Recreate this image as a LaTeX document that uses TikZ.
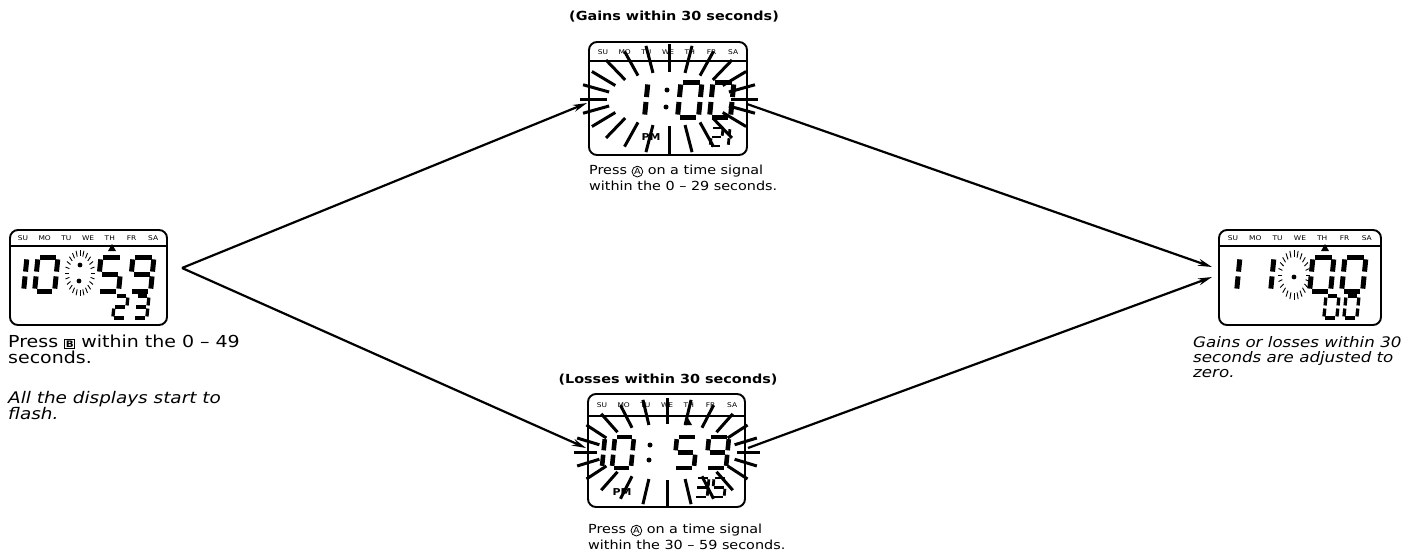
\documentclass[tikz,border=0pt]{standalone}
\usepackage{fontspec}
\setmainfont[FakeStretch=1.15]{DejaVu Sans}
\usetikzlibrary{arrows.meta,calc}

\newcommand{\circA}{\tikz[baseline=(ca.base)]\node[draw,circle,anchor=center,inner sep=0.6pt,line width=0.8pt,font=\fontsize{8.5}{8.5}\selectfont] (ca) {A};}
\newcommand{\boxB}{\raisebox{0.5pt}{\setlength{\fboxsep}{0.7pt}\setlength{\fboxrule}{0.9pt}\fbox{\fontsize{9}{9}\selectfont\bfseries B}}}

% seven-segment LCD digits
\newcommand{\lcdA}{\draw[seg] ({\dG},0) -- ({\dW-\dG},0);}
\newcommand{\lcdB}{\draw[seg] ({\dW},{\dG}) -- ({\dW},{\dM-\dG});}
\newcommand{\lcdC}{\draw[seg] ({\dW},{\dM+\dG}) -- ({\dW},{\dH-\dG});}
\newcommand{\lcdD}{\draw[seg] ({\dG},{\dH}) -- ({\dW-\dG},{\dH});}
\newcommand{\lcdE}{\draw[seg] (0,{\dM+\dG}) -- (0,{\dH-\dG});}
\newcommand{\lcdF}{\draw[seg] (0,{\dG}) -- (0,{\dM-\dG});}
\newcommand{\lcdG}{\draw[seg] ({\dG},{\dM}) -- ({\dW-\dG},{\dM});}
\newcommand{\dgZero}{\lcdA\lcdB\lcdC\lcdD\lcdE\lcdF}
\newcommand{\dgBar}{\lcdE\lcdF}
\newcommand{\dgTwo}{\lcdA\lcdB\lcdG\lcdE\lcdD}
\newcommand{\dgThree}{\lcdA\lcdB\lcdG\lcdC\lcdD}
\newcommand{\dgFive}{\lcdA\lcdF\lcdG\lcdC\lcdD}
\newcommand{\dgNine}{\lcdA\lcdB\lcdC\lcdD\lcdF\lcdG}
% #1 x, #2 y (top), #3 height, #4 width, #5 thickness, #6 segments
\newcommand{\lcd}[6]{%
  \begin{scope}[shift={(#1,#2)},xslant=0.1]
    \pgfmathsetmacro{\dH}{#3}\pgfmathsetmacro{\dW}{#4}%
    \pgfmathsetmacro{\dG}{0.07*#3}\pgfmathsetmacro{\dM}{0.5*#3}%
    \def\dT{#5}%
    #6
  \end{scope}}

\newcommand{\flash}[6]{%
  \foreach \a in {0,15,...,345}{\draw[ray] ({#1+#3*cos(\a)},{#2+#4*sin(\a)}) -- ({#1+#5*cos(\a)},{#2+#6*sin(\a)});}}
\newcommand{\burst}[6]{%
  \foreach \a in {0,15,...,345}{\draw[tick] ({#1+#3*cos(\a)},{#2+#4*sin(\a)}) -- ({#1+#5*cos(\a)},{#2+#6*sin(\a)});}}

\begin{document}
\begin{tikzpicture}[x=1pt,y=-1pt,
  face/.style={draw,line width=1.9pt,rounded corners=8pt,inner sep=0pt,outer sep=0pt},
  sepline/.style={line width=1.3pt},
  seg/.style={line width=\dT pt,line cap=butt},
  ray/.style={line width=3pt},
  tick/.style={line width=0.9pt},
  arr/.style={line width=2.2pt,-{Stealth[length=14pt,width=7pt]}},
  day/.style={font=\fontsize{6.5}{6.5}\selectfont,inner sep=0pt},
  pm/.style={font=\fontsize{9.5}{9.5}\selectfont\bfseries,inner sep=0pt},
  txtL/.style={anchor=north west,align=left,inner sep=0pt,font=\fontsize{16.5}{16}\selectfont},
  txtR/.style={anchor=north west,align=left,inner sep=0pt,font=\fontsize{14.5}{15}\selectfont\itshape},
  txtC/.style={anchor=north west,align=left,inner sep=0pt,font=\fontsize{12.5}{16}\selectfont},
  title/.style={anchor=base,inner sep=0pt,font=\fontsize{12.5}{14}\selectfont\bfseries}]
\useasboundingbox (0,0) rectangle (1408,557);

% faces
\node[face,minimum width=157pt,minimum height=95pt] (L) at (88.5,277.5) {};
\node[face,minimum width=158pt,minimum height=113pt] (T) at (668,98.5) {};
\node[face,minimum width=157pt,minimum height=113pt] (B) at (666.5,450.5) {};
\node[face,minimum width=162pt,minimum height=95pt] (R) at (1300,277.5) {};

\draw[sepline] ([yshift=-16pt]L.north west) -- ([yshift=-16pt]L.north east);
\draw[sepline] ([yshift=-19pt]T.north west) -- ([yshift=-19pt]T.north east);
\draw[sepline] ([yshift=-22pt]B.north west) -- ([yshift=-22pt]B.north east);
\draw[sepline] ([yshift=-16pt]R.north west) -- ([yshift=-16pt]R.north east);

\foreach \d [count=\i from 0] in {SU,MO,TU,WE,TH,FR,SA}{
  \node[day] (L-\i) at ($(L.north west)+(13+\i*21.7,8)$) {\d};
  \node[day] (T-\i) at ($(T.north west)+(14+\i*21.7,10)$) {\d};
  \node[day] (B-\i) at ($(B.north west)+(14+\i*21.7,11)$) {\d};
  \node[day] (R-\i) at ($(R.north west)+(14+\i*22.3,8)$) {\d};
}

% left face  10:59  23
\lcd{27}{257}{34}{20}{5}{\dgBar}
\lcd{38}{257}{34}{20}{5}{\dgZero}
\lcd{101}{257}{34}{21}{5}{\dgFive}
\lcd{133}{257}{34}{21}{5}{\dgNine}
\lcd{115}{296}{22}{13}{3.3}{\dgTwo}
\lcd{136}{296}{22}{13}{3.3}{\dgThree}
\fill (80,265) circle (2.4); \fill (79,281) circle (2.4);
\burst{80}{273}{11}{17}{15}{23}
\fill (112,244) -- (108,251) -- (116,251) -- cycle;

% right face  11:00  00
\lcd{1240}{257}{34}{20}{5}{\dgBar}
\lcd{1274}{257}{34}{20}{5}{\dgBar}
\lcd{1313}{257}{34}{21}{5}{\dgZero}
\lcd{1345}{257}{34}{21}{5}{\dgZero}
\lcd{1326}{296}{22}{13}{3.3}{\dgZero}
\lcd{1346}{296}{22}{13}{3.3}{\dgZero}
\fill (1294,277) circle (2.4);
\burst{1294}{275}{12}{18}{16}{25}
\fill (1325,244) -- (1321,251) -- (1329,251) -- cycle;

% top face  1:00
\flash{669}{99}{62}{27}{89}{55}
\lcd{648}{82}{35}{21}{5}{\dgBar}
\fill (667,90) circle (2.5); \fill (666,107) circle (2.5);
\lcd{681}{82}{35}{21}{5}{\dgZero}
\lcd{713}{82}{35}{21}{5}{\dgZero}
\lcd{712}{128}{18}{11}{2.8}{\dgTwo}
\lcd{730}{128}{18}{11}{2.8}{\dgBar}
\node[pm] (Tpm) at (651,137) {PM};

% bottom face  10:59  35
\flash{667}{452}{70}{28}{93}{54}
\lcd{605}{437}{31}{19}{4.6}{\dgBar}
\lcd{615}{437}{31}{19}{4.6}{\dgZero}
\fill (650,445) circle (2.5); \fill (649,460) circle (2.5);
\lcd{677}{437}{31}{20}{4.6}{\dgFive}
\lcd{709}{437}{31}{20}{4.6}{\dgNine}
\lcd{697}{478}{19}{12}{2.8}{\dgThree}
\lcd{714}{478}{19}{12}{2.8}{\dgFive}
\node[pm] (Bpm) at (622,492) {PM};
\fill (688,418) -- (684,425) -- (692,425) -- cycle;

% connectors
\coordinate (Lv) at ($(L.east)+(15,-9.5)$);
\draw[arr] (Lv) -- ($(T.west)+(-2,4.5)$);
\draw[arr] (Lv) -- ($(B.west)+(-2,-2.5)$);
\draw[arr] ($(T.east)+(0,5.5)$) -- ($(R.west)+(-7,-10.5)$);
\draw[arr] ($(B.east)+(3,-2.5)$) -- ($(R.west)+(-7,-0.5)$);

% texts
\node[title] (tt) at (674,20) {(Gains within 30 seconds)};
\node[title] (bt) at (668,383) {(Losses within 30 seconds)};
\node[txtC] (tc) at (589,165) {Press \circA{} on a time signal\\within the 0 -- 29 seconds.};
\node[txtC] (bc) at (588,524) {Press \circA{} on a time signal\\within the 30 -- 59 seconds.};
\node[txtL] (lc) at (8,335) {Press \boxB{} within the 0 -- 49\\seconds.};
\node[txtL,font=\fontsize{16}{16}\selectfont\itshape] (li) at (8,391) {All the displays start to\\flash.};
\node[txtR] (rc) at (1193,336) {Gains or losses within 30\\seconds are adjusted to\\zero.};
\end{tikzpicture}
\end{document}
